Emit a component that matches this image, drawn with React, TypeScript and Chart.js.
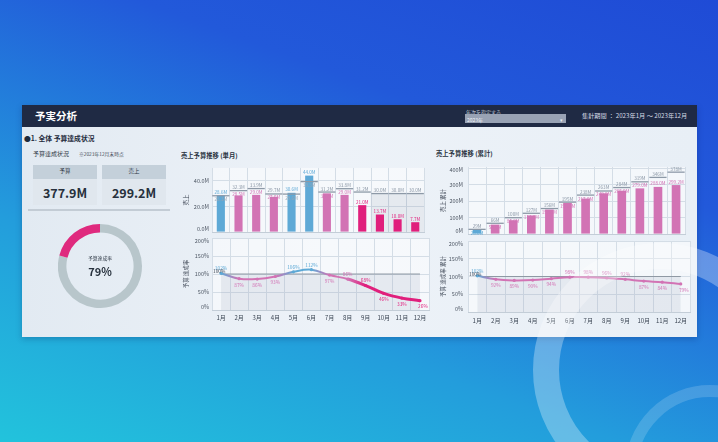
import React, { useEffect, useRef } from "react";
import { Chart, registerables } from "chart.js";

Chart.register(...registerables);

const FONT = '"Noto Sans CJK JP", "Noto Sans", sans-serif';
Chart.defaults.font.family = FONT;

// ---------- data ----------
const months = ["1月", "2月", "3月", "4月", "5月", "6月", "7月", "8月", "9月", "10月", "11月", "12月"];

const monthlySales = [28.6, 28.5, 29.0, 27.5, 30.6, 44.0, 30.2, 29.0, 21.0, 13.7, 10.0, 7.7];
const monthlyBudget = [28.3, 32.3, 33.9, 29.7, 29.6, 39.3, 31.2, 33.8, 31.2, 30.0, 30.0, 30.0];
const monthlyForecastBudget = [null, null, null, null, null, null, null, null, null, 30.0, 30.0, 30.0];
const monthlyRate = [102, 87, 86, 93, 106, 112, 97, 86, 68, 46, 33, 26];
const monthlyTicks = [0, 20, 40];

const cumSales = [28.6, 58.0, 85.0, 114.0, 150.0, 190.0, 217.0, 249.0, 265.0, 279.0, 288.0, 299.2];
const cumBudget = [29.0, 66.0, 100.0, 127.0, 156.0, 195.0, 238.0, 263.0, 284.0, 319.0, 346.0, 377.9];
const cumRate = [102, 92, 89, 90, 94, 98, 98, 96, 92, 87, 84, 79];
const cumTicks = [0, 100, 200, 300, 400];

const rateTicks = [0, 50, 100, 150, 200];
const targetRate = [100, 100, 100, 100, 100, 100, 100, 100, 100, 100, 100, 100];

const donutLabels = ["達成", "未達"];
const donutValues = [79, 21];

const totalBudget = "377.9M";
const totalSales = "299.2M";
const achievement = "79%";

// ---------- styles ----------
const BLUE = "#5ea9d6";
const PINK = "#d273b4";
const MAGENTA = "#e01f7c";
const BUDGET_GRAY = "#8d99a7";
const GRID = "#d4dde6";
const BORDER = "#c3cdd7";

const rateColor = (r: number) => (r >= 100 ? BLUE : r < 70 ? MAGENTA : PINK);

const areaBg = {
  id: "areaBg",
  beforeDraw(chart: any) {
    const { ctx, chartArea: a } = chart;
    ctx.save();
    ctx.fillStyle = "rgba(255,255,255,0.5)";
    ctx.fillRect(a.left, a.top, a.right - a.left, a.bottom - a.top);
    ctx.restore();
  },
};

const yTickLabels = (fmt: (v: number) => string, pad: number) => ({
  id: "yTickLabels",
  afterDraw(chart: any) {
    const s = chart.scales.y;
    const a = chart.chartArea;
    const ctx = chart.ctx;
    ctx.save();
    ctx.font = `5.5px ${FONT}`;
    ctx.fillStyle = "#4d5663";
    ctx.textAlign = "right";
    ctx.textBaseline = "middle";
    s.ticks.forEach((t: any) => {
      let y = s.getPixelForValue(t.value);
      y = Math.min(Math.max(y, a.top + 3), a.bottom - 3);
      ctx.fillText(fmt(t.value), a.left - pad, y);
    });
    ctx.restore();
  },
});

const barLabels = (
  sales: number[],
  budget: number[],
  rates: number[],
  fmtS: (v: number) => string,
  fmtB: (v: number) => string
) => ({
  id: "barLabels",
  afterDatasetsDraw(chart: any) {
    const x = chart.scales.x;
    const y = chart.scales.y;
    const ctx = chart.ctx;
    ctx.save();
    ctx.font = `4.6px ${FONT}`;
    ctx.textAlign = "center";
    ctx.textBaseline = "alphabetic";
    sales.forEach((s, i) => {
      const px = x.getPixelForValue(i);
      const sy = y.getPixelForValue(s);
      const by = y.getPixelForValue(budget[i]);
      const sc = rateColor(rates[i]);
      if (s >= budget[i]) {
        ctx.fillStyle = sc;
        ctx.fillText(fmtS(s), px, sy - 1.5);
        ctx.fillStyle = "#9aa6b3";
        ctx.fillText(fmtB(budget[i]), px, Math.max(by + 5.5, sy + 5.5));
      } else {
        ctx.fillStyle = "#8b97a6";
        ctx.fillText(fmtB(budget[i]), px, by - 1.5);
        ctx.fillStyle = sc;
        ctx.fillText(fmtS(s), px, Math.max(sy - 1.5, by + 5.5));
      }
    });
    ctx.restore();
  },
});

const rateLabels = (rates: number[], above: number[]) => ({
  id: "rateLabels",
  afterDatasetsDraw(chart: any) {
    const meta = chart.getDatasetMeta(0);
    const ctx = chart.ctx;
    ctx.save();
    ctx.font = `4.8px ${FONT}`;
    ctx.textAlign = "center";
    ctx.textBaseline = "middle";
    meta.data.forEach((pt: any, i: number) => {
      const up = above.includes(i);
      ctx.fillStyle = rateColor(rates[i]);
      ctx.fillText(rates[i] + "%", pt.x + (i === 11 ? 3 : 0), pt.y + (up ? -5 : 6));
    });
    const y100 = chart.scales.y.getPixelForValue(100);
    ctx.fillStyle = "#3c4654";
    ctx.textAlign = "left";
    ctx.fillText("100%", chart.chartArea.left + 1, y100 - 2.5);
    ctx.restore();
  },
});

const setTicks = (values: number[]) => (s: any) => {
  s.ticks = values.map((v) => ({ value: v }));
};

function barConfig(
  sales: number[],
  budget: number[],
  forecast: (number | null)[],
  rates: number[],
  yMax: number,
  ticks: number[],
  fmtTick: (v: number) => string,
  fmtS: (v: number) => string,
  fmtB: (v: number) => string,
  title: string,
  titlePad: number,
  yWidth: number,
  tickPad: number,
  barPct: number,
  pad: { top: number; right: number; bottom: number; left: number }
): any {
  return {
    type: "bar",
    data: {
      labels: months,
      datasets: [
        {
          type: "line",
          data: budget,
          showLine: false,
          pointStyle: "line",
          pointRadius: 8.6,
          pointHoverRadius: 8.6,
          pointBorderColor: BUDGET_GRAY,
          pointBorderWidth: 1.3,
          borderColor: BUDGET_GRAY,
          backgroundColor: BUDGET_GRAY,
        },
        {
          type: "bar",
          data: sales,
          backgroundColor: rates.map(rateColor),
          barPercentage: barPct,
          categoryPercentage: 1,
          grouped: false,
        },
        {
          type: "bar",
          data: forecast,
          backgroundColor: "rgba(140,155,175,0.16)",
          barPercentage: 1,
          categoryPercentage: 1,
          grouped: false,
        },
      ],
    },
    options: {
      animation: false,
      responsive: false,
      devicePixelRatio: 1,
      layout: { padding: pad },
      plugins: { legend: { display: false }, tooltip: { enabled: false } },
      scales: {
        x: {
          offset: true,
          grid: { color: GRID, drawTicks: false, offset: true },
          border: { color: BORDER },
          ticks: { display: false },
          afterFit: (s: any) => {
            s.height = 0;
          },
        },
        y: {
          min: 0,
          max: yMax,
          afterBuildTicks: setTicks(ticks),
          ticks: { display: false },
          grid: { color: GRID, drawTicks: false },
          border: { display: false },
          title: {
            display: true,
            text: title,
            font: { size: 5.5 },
            color: "#3e4755",
            padding: { top: titlePad, bottom: 0 },
          },
          afterFit: (s: any) => {
            s.width = yWidth;
          },
        },
      },
    },
    plugins: [areaBg, yTickLabels(fmtTick, tickPad), barLabels(sales, budget, rates, fmtS, fmtB)],
  };
}

function lineConfig(
  rates: number[],
  above: number[],
  title: string,
  titlePad: number,
  yWidth: number,
  tickPad: number,
  xPad: number,
  pad: { top: number; right: number; bottom: number; left: number }
): any {
  return {
    type: "line",
    data: {
      labels: months,
      datasets: [
        {
          data: rates,
          borderColor: PINK,
          borderWidth: 2,
          tension: 0.4,
          pointRadius: 1.6,
          pointBorderWidth: 0,
          pointBackgroundColor: rates.map(rateColor),
          fill: false,
          segment: {
            borderColor: (c: any) => {
              const g = c.chart.ctx.createLinearGradient(c.p0.x, 0, c.p1.x, 0);
              g.addColorStop(0, rateColor(rates[c.p0DataIndex]));
              g.addColorStop(1, rateColor(rates[c.p1DataIndex]));
              return g;
            },
            borderWidth: (c: any) => (rates[c.p1DataIndex] < 70 ? 3 : 2),
          },
        },
        {
          data: targetRate,
          borderColor: "#8f99a4",
          borderWidth: 1.2,
          pointRadius: 0,
          tension: 0,
          fill: "origin",
          backgroundColor: "rgba(140,158,178,0.16)",
        },
      ],
    },
    options: {
      animation: false,
      responsive: false,
      devicePixelRatio: 1,
      layout: { padding: pad },
      plugins: { legend: { display: false }, tooltip: { enabled: false } },
      scales: {
        x: {
          offset: true,
          grid: { color: GRID, drawTicks: false, offset: true },
          border: { color: BORDER },
          ticks: { font: { size: 6 }, color: "#3a4452", padding: xPad, maxRotation: 0, autoSkip: false },
          afterFit: (s: any) => {
            s.height = 16;
          },
        },
        y: {
          min: 0,
          max: 200,
          afterBuildTicks: setTicks(rateTicks),
          ticks: { display: false },
          grid: { color: GRID, drawTicks: false },
          border: { display: false },
          title: {
            display: true,
            text: title,
            font: { size: 5.5 },
            color: "#3e4755",
            padding: { top: titlePad, bottom: 0 },
          },
          afterFit: (s: any) => {
            s.width = yWidth;
          },
        },
      },
    },
    plugins: [areaBg, yTickLabels((v) => v + "%", tickPad), rateLabels(rates, above)],
  };
}

function donutConfig(): any {
  return {
    type: "doughnut",
    data: {
      labels: donutLabels,
      datasets: [
        {
          data: donutValues,
          backgroundColor: ["#b8c6cb", "#df2a7e"],
          borderWidth: 0,
        },
      ],
    },
    options: {
      animation: false,
      responsive: false,
      devicePixelRatio: 1,
      cutout: "80%",
      layout: { padding: 0 },
      plugins: { legend: { display: false }, tooltip: { enabled: false } },
    },
  };
}

function ChartCanvas(props: { left: number; top: number; width: number; height: number; make: () => any }) {
  const ref = useRef<HTMLCanvasElement | null>(null);
  useEffect(() => {
    const chart = new Chart(ref.current as HTMLCanvasElement, props.make());
    return () => chart.destroy();
  }, []);
  return (
    <canvas
      ref={ref}
      width={props.width}
      height={props.height}
      style={{ position: "absolute", left: props.left, top: props.top, width: props.width, height: props.height }}
    />
  );
}

function T(props: {
  x: number;
  y: number;
  size: number;
  color?: string;
  bold?: boolean;
  center?: boolean;
  children: React.ReactNode;
}) {
  return (
    <div
      style={{
        position: "absolute",
        left: props.x,
        top: props.y,
        transform: props.center ? "translate(-50%,-50%)" : "translateY(-50%)",
        fontSize: props.size,
        fontWeight: props.bold ? 700 : 400,
        color: props.color || "#2a3441",
        whiteSpace: "nowrap",
        lineHeight: 1,
      }}
    >
      {props.children}
    </div>
  );
}

export default function App() {
  const fmtM1 = (v: number) => v.toFixed(1) + "M";
  const fmtM0 = (v: number) => Math.round(v) + "M";
  return (
    <div
      style={{
        position: "fixed",
        left: 0,
        top: 0,
        width: 718,
        height: 442,
        overflow: "hidden",
        fontFamily: FONT,
        background: "linear-gradient(200deg, #1f4bd6 0%, #2259da 30%, #239ddc 68%, #22c3dc 100%)",
      }}
    >
      {/* panel */}
      <div
        style={{
          position: "absolute",
          left: 22,
          top: 105,
          width: 675,
          height: 232,
          background: "linear-gradient(90deg, #e2eaf2 0%, #edf2f8 45%, #e8eff6 100%)",
          boxShadow: "0 2px 6px rgba(0,20,80,0.25)",
        }}
      />
      <div style={{ position: "absolute", left: 22, top: 105, width: 675, height: 21.5, background: "#1f2a44" }} />
      <T x={35} y={116} size={10.5} bold color="#ffffff">
        予実分析
      </T>
      <T x={466} y={110.5} size={5} color="#c3cad6">
        年次を指定する
      </T>
      <div style={{ position: "absolute", left: 465, top: 114, width: 101, height: 9, background: "#98a2b4" }} />
      <T x={467} y={118.5} size={5} color="#eef1f6">
        2023年
      </T>
      <T x={560} y={118.5} size={5} color="#eef1f6">
        ▾
      </T>
      <T x={582} y={116} size={6.2} color="#d5dbe5">
        集計期間 ： 2023年1月 〜 2023年12月
      </T>

      <T x={24} y={138} size={6.8} bold color="#1e2a3c">
        ●1. 全体 予算達成状況
      </T>
      <T x={33} y={154} size={6} color="#2f3946">
        予算達成状況
      </T>
      <T x={79} y={154} size={4.8} color="#3f4956">
        ※2023年12月末時点
      </T>

      {/* cards */}
      <div style={{ position: "absolute", left: 33, top: 165, width: 64, height: 14, background: "#c4d0da" }} />
      <div style={{ position: "absolute", left: 33, top: 179, width: 64, height: 26, background: "#e0e7ee" }} />
      <div style={{ position: "absolute", left: 102, top: 165, width: 64, height: 14, background: "#c4d0da" }} />
      <div style={{ position: "absolute", left: 102, top: 179, width: 64, height: 26, background: "#e0e7ee" }} />
      <T x={65} y={172} size={5.5} center color="#2f3946">
        予算
      </T>
      <T x={134} y={172} size={5.5} center color="#2f3946">
        売上
      </T>
      <T x={65} y={192.5} size={12.5} bold center color="#27313d">
        {totalBudget}
      </T>
      <T x={134} y={192.5} size={12.5} bold center color="#27313d">
        {totalSales}
      </T>
      <div style={{ position: "absolute", left: 28, top: 209, width: 142, height: 1.5, background: "#c3ccd5" }} />

      {/* donut */}
      <ChartCanvas left={58} top={224} width={84} height={84} make={donutConfig} />
      <T x={100} y={257.5} size={4.8} center color="#2f3946">
        予算達成率
      </T>
      <T x={100} y={271} size={11} bold center color="#27313d">
        {achievement}
      </T>

      {/* monthly */}
      <T x={181} y={155.5} size={6.3} bold color="#27313d">
        売上予算推移 (単月)
      </T>
      <ChartCanvas
        left={172}
        top={158}
        width={262}
        height={84}
        make={() =>
          barConfig(
            monthlySales,
            monthlyBudget,
            monthlyForecastBudget,
            monthlyRate,
            50,
            monthlyTicks,
            fmtM1,
            fmtM1,
            fmtM1,
            "売上",
            10.7,
            40,
            3,
            0.46,
            { top: 5, right: 5, bottom: 5, left: 0 }
          )
        }
      />
      <ChartCanvas
        left={172}
        top={234}
        width={262}
        height={92}
        make={() =>
          lineConfig(monthlyRate, [0, 4, 5, 7, 8], "予算 達成率", 10.7, 40, 3, 4, {
            top: 4,
            right: 5,
            bottom: 0,
            left: 0,
          })
        }
      />

      {/* cumulative */}
      <T x={436} y={154} size={6.3} bold color="#27313d">
        売上予算推移 (累計)
      </T>
      <ChartCanvas
        left={428}
        top={157}
        width={267}
        height={87}
        make={() =>
          barConfig(
            cumSales,
            cumBudget,
            [],
            cumRate,
            410,
            cumTicks,
            fmtM0,
            fmtM1,
            fmtM0,
            "売上 累計",
            11.7,
            40,
            5,
            0.48,
            { top: 5, right: 5, bottom: 5.5, left: 0 }
          )
        }
      />
      <ChartCanvas
        left={428}
        top={237}
        width={267}
        height={91}
        make={() =>
          lineConfig(cumRate, [0, 5, 6, 7, 8], "予算 達成率 累計", 11.7, 40, 5, 5, {
            top: 4,
            right: 5,
            bottom: 0,
            left: 0,
          })
        }
      />

      {/* decorative arcs */}
      <div
        style={{
          position: "absolute",
          left: 533,
          top: 243,
          width: 254,
          height: 254,
          borderRadius: "50%",
          border: "26px solid rgba(255,255,255,0.3)",
          boxSizing: "border-box",
          pointerEvents: "none",
        }}
      />
      <div
        style={{
          position: "absolute",
          left: 625,
          top: 385,
          width: 170,
          height: 170,
          borderRadius: "50%",
          border: "12px solid rgba(255,255,255,0.16)",
          boxSizing: "border-box",
          pointerEvents: "none",
        }}
      />
    </div>
  );
}
